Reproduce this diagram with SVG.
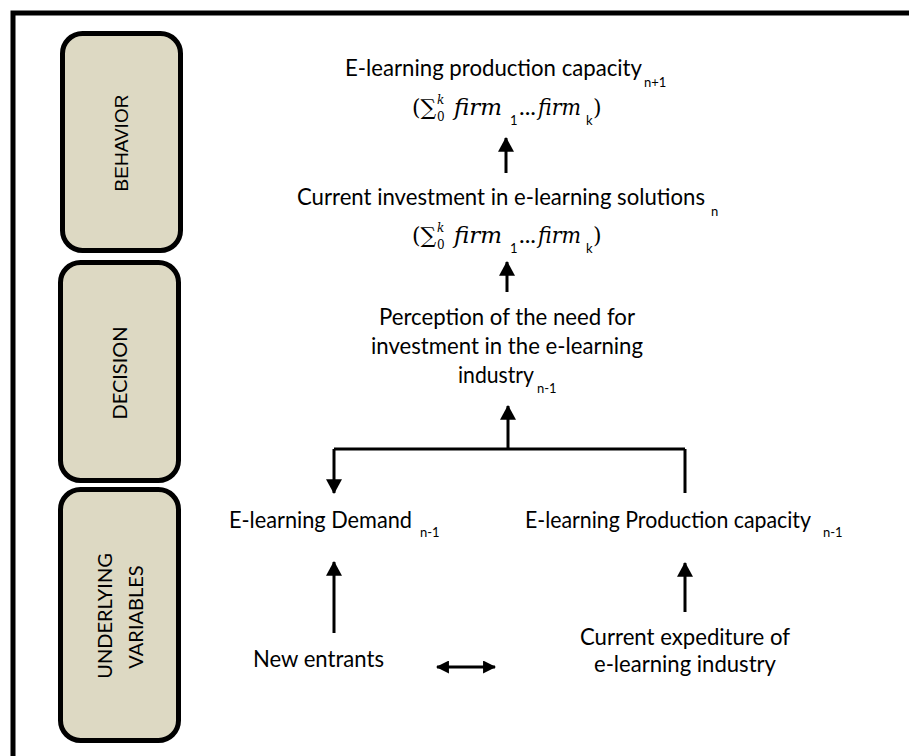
<svg xmlns="http://www.w3.org/2000/svg" width="909" height="756" viewBox="0 0 909 756">
<style>
.box{fill:#DDD9C3;stroke:#000;stroke-width:5}
.lbl{font-family:Lato,"Open Sans",sans-serif;font-size:20px;fill:#000}
.arial{font-family:"Liberation Sans",Arial,sans-serif;font-size:19px;fill:#000}
.t{font-family:Lato,"Open Sans",sans-serif;font-size:23px;fill:#000}
.s{font-family:Lato,"Open Sans",sans-serif;font-size:13px;fill:#000}
.m{font-family:"DejaVu Serif","Liberation Serif",serif;font-size:22px;fill:#000}
.mi{font-family:"DejaVu Serif","Liberation Serif",serif;font-size:22px;font-style:italic;fill:#000}
.ms{font-family:"DejaVu Serif","Liberation Serif",serif;font-size:12px;fill:#000}
.ms2{font-family:Lato,"Open Sans",sans-serif;font-size:13px;fill:#000}
.ln{fill:none;stroke:#000;stroke-width:3}
</style>
<defs>
<marker id="ah" markerUnits="userSpaceOnUse" markerWidth="16" markerHeight="16" viewBox="0 0 14 15" refX="13" refY="7.5" orient="auto">
<path d="M0,0 L14,7.5 L0,15 z" fill="#000"/>
</marker>
<marker id="ahs" markerUnits="userSpaceOnUse" markerWidth="13" markerHeight="13" viewBox="0 0 12 12" refX="11" refY="6" orient="auto-start-reverse">
<path d="M0,0 L12,6 L0,12 z" fill="#000"/>
</marker>
</defs>

<g id="frame">
<path d="M13,756 L13,13 L909,13" fill="none" stroke="#000" stroke-width="5"/>
</g>

<g id="behavior">
<rect class="box" x="62.5" y="33.5" width="118" height="217" rx="20"/>
<text class="arial" transform="translate(128,143) rotate(-90)" text-anchor="middle">BEHAVIOR</text>
</g>
<g id="decision">
<rect class="box" x="60.5" y="262.5" width="118" height="218" rx="20"/>
<text class="lbl" transform="translate(127,373) rotate(-90)" text-anchor="middle">DECISION</text>
</g>
<g id="underlying">
<rect class="box" x="60.5" y="489.5" width="118" height="251" rx="20"/>
<text class="lbl" transform="translate(112,616) rotate(-90)" text-anchor="middle">UNDERLYING</text>
<text class="lbl" transform="translate(143,617) rotate(-90)" text-anchor="middle">VARIABLES</text>
</g>

<g id="production-capacity-next">
<text class="t" x="345" y="76" textLength="297" lengthAdjust="spacingAndGlyphs">E-learning production capacity</text>
<text class="s" x="644" y="87">n+1</text>
<text class="m" x="412" y="115">(∑</text>
<text class="ms" x="437" y="104" font-style="italic">k</text>
<text class="ms" x="437" y="121">0</text>
<text class="mi" x="454" y="115" textLength="48" lengthAdjust="spacingAndGlyphs">firm</text>
<text class="ms2" x="510" y="125">1</text>
<text class="t" x="519" y="115" textLength="17" lengthAdjust="spacingAndGlyphs">...</text>
<text class="mi" x="538" y="115" textLength="43" lengthAdjust="spacingAndGlyphs">firm</text>
<text class="ms2" x="586" y="125">k</text>
<text class="m" x="593" y="115">)</text>
</g>

<g id="current-investment">
<text class="t" x="297" y="205" textLength="408" lengthAdjust="spacingAndGlyphs">Current investment in e-learning solutions</text>
<text class="s" x="711" y="216">n</text>
<text class="m" x="412" y="243">(∑</text>
<text class="ms" x="437" y="232" font-style="italic">k</text>
<text class="ms" x="437" y="249">0</text>
<text class="mi" x="454" y="243" textLength="48" lengthAdjust="spacingAndGlyphs">firm</text>
<text class="ms2" x="510" y="253">1</text>
<text class="t" x="519" y="243" textLength="17" lengthAdjust="spacingAndGlyphs">...</text>
<text class="mi" x="538" y="243" textLength="43" lengthAdjust="spacingAndGlyphs">firm</text>
<text class="ms2" x="586" y="253">k</text>
<text class="m" x="593" y="243">)</text>
</g>

<g id="perception">
<text class="t" x="379" y="325" textLength="256" lengthAdjust="spacingAndGlyphs">Perception of the need for</text>
<text class="t" x="371" y="354" textLength="272" lengthAdjust="spacingAndGlyphs">investment in the e-learning</text>
<text class="t" x="458" y="383" textLength="76" lengthAdjust="spacingAndGlyphs">industry</text>
<text class="s" x="537" y="393">n-1</text>
</g>

<g id="demand">
<text class="t" x="229" y="528" textLength="183" lengthAdjust="spacingAndGlyphs">E-learning Demand</text>
<text class="s" x="420" y="537">n-1</text>
</g>

<g id="production-capacity-prev">
<text class="t" x="525" y="528" textLength="286" lengthAdjust="spacingAndGlyphs">E-learning Production capacity</text>
<text class="s" x="823" y="537">n-1</text>
</g>

<g id="new-entrants">
<text class="t" x="253" y="667" textLength="131" lengthAdjust="spacingAndGlyphs">New entrants</text>
</g>

<g id="current-expenditure">
<text class="t" x="580" y="645" textLength="210" lengthAdjust="spacingAndGlyphs">Current expediture of</text>
<text class="t" x="594" y="672" textLength="182" lengthAdjust="spacingAndGlyphs">e-learning industry</text>
</g>

<g id="connectors">
<line class="ln" x1="506" y1="173" x2="506" y2="138" marker-end="url(#ah)"/>
<line class="ln" x1="507" y1="292" x2="507" y2="262" marker-end="url(#ah)"/>
<line class="ln" x1="508" y1="449" x2="508" y2="406" marker-end="url(#ah)"/>
<path class="ln" d="M334,449 L685,449"/>
<line class="ln" x1="334" y1="449" x2="334" y2="493" marker-end="url(#ah)"/>
<line class="ln" x1="685" y1="449" x2="685" y2="493"/>
<line class="ln" x1="334" y1="633" x2="334" y2="562" marker-end="url(#ah)"/>
<line class="ln" x1="685" y1="612" x2="685" y2="563" marker-end="url(#ah)"/>
<line class="ln" x1="437" y1="667" x2="495" y2="667" marker-start="url(#ahs)" marker-end="url(#ahs)"/>
</g>
</svg>
